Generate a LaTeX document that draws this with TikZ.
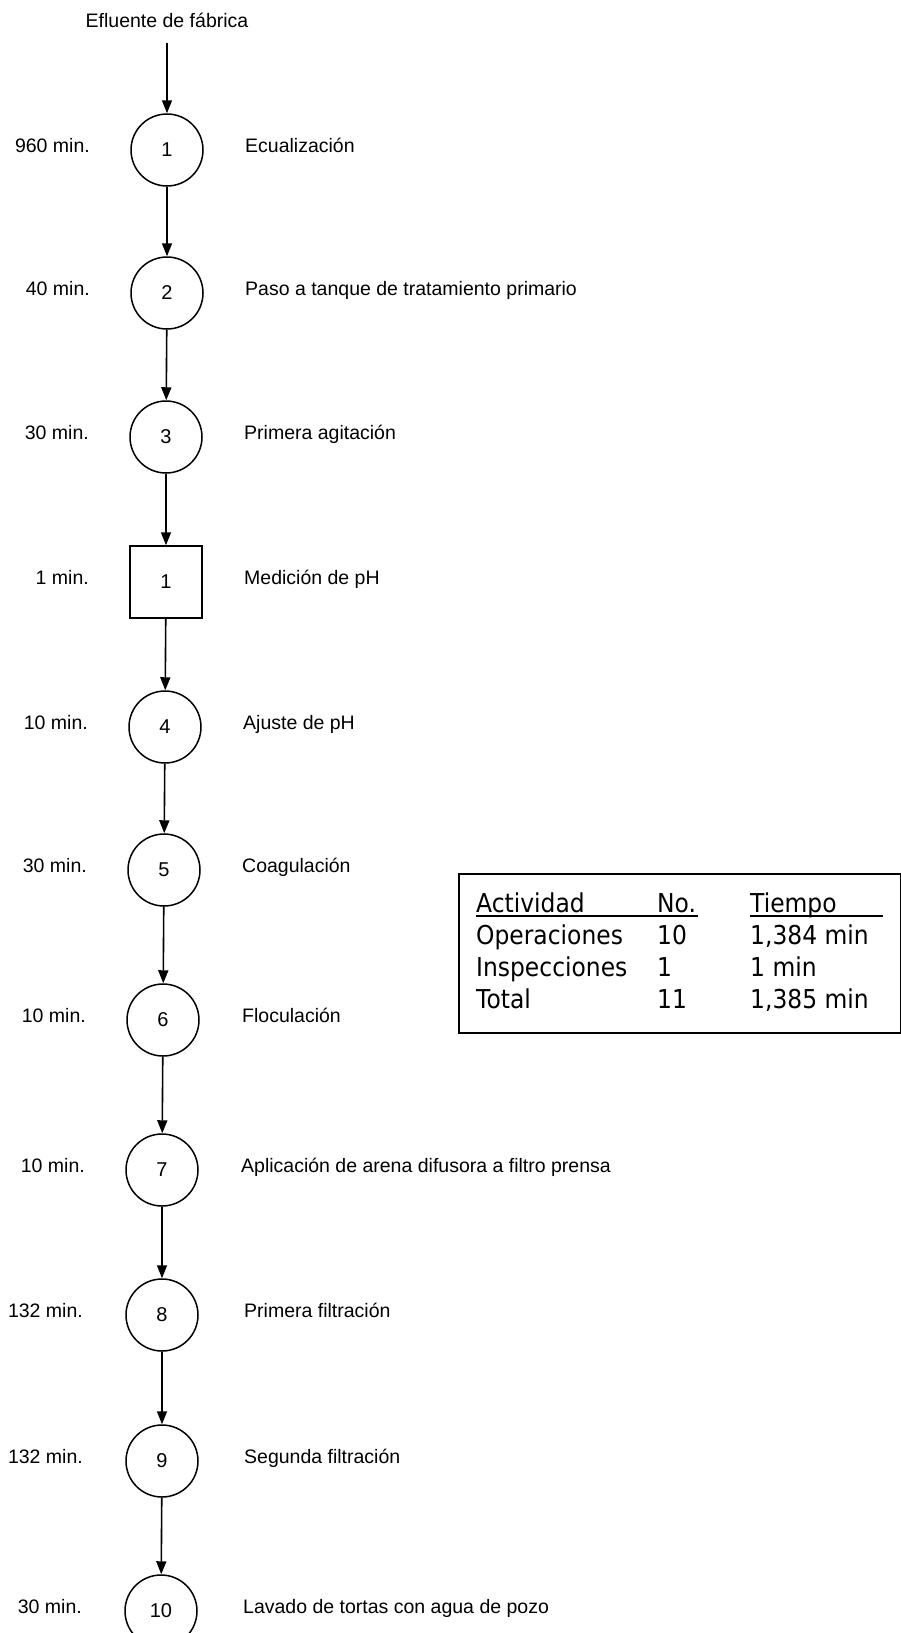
\documentclass[tikz,border=0pt]{standalone}
\usepackage{fontspec}
\setmainfont{Liberation Sans}
\newfontfamily\tabfont[FakeStretch=0.9]{DejaVu Sans}
\usetikzlibrary{arrows.meta}
\newcommand{\lab}{\fontsize{19.5}{23}\selectfont}
\begin{document}
\begin{tikzpicture}[x=1pt,y=-1pt,
  op/.style={circle,draw,line width=1.5pt,minimum size=72pt,inner sep=0pt,font=\fontsize{20}{24}\selectfont},
  insp/.style={rectangle,draw,line width=1.5pt,minimum size=72pt,inner sep=0pt,font=\fontsize{20}{24}\selectfont},
  flow/.style={-{Triangle[width=10pt,length=13pt]},line width=1.6pt},
  tlabel/.style={anchor=mid east,inner sep=0pt,font=\lab},
  dlabel/.style={anchor=mid west,inner sep=0pt,font=\lab},
  tabtxt/.style={anchor=base west,inner sep=0pt,font=\tabfont\fontsize{26}{30}\selectfont},
  rule/.style={line width=1.6pt}]
\useasboundingbox (0,0) rectangle (901,1633);

% source
\node[font=\lab,inner sep=0pt] (src) at (167,20) {Efluente de fábrica};
\coordinate (s0) at (167,43);

% process steps
\node[op]   (o1)  at (167,150)  {1};
\node[op]   (o2)  at (167,293)  {2};
\node[op]   (o3)  at (166,437)  {3};
\node[insp] (i1)  at (166,582)  {1};
\node[op]   (o4)  at (165,727)  {4};
\node[op]   (o5)  at (164,870)  {5};
\node[op]   (o6)  at (163,1020) {6};
\node[op]   (o7)  at (162,1170) {7};
\node[op]   (o8)  at (162,1315) {8};
\node[op]   (o9)  at (162,1461) {9};
\node[op]   (o10) at (161,1611) {10};

% times
\node[tlabel] (t1)  at ([xshift=-77pt]o1.center)  {960 min.};
\node[tlabel] (t2)  at ([xshift=-77pt]o2.center)  {40 min.};
\node[tlabel] (t3)  at ([xshift=-77pt]o3.center)  {30 min.};
\node[tlabel] (ti1) at ([xshift=-77pt]i1.center)  {1 min.};
\node[tlabel] (t4)  at ([xshift=-77pt]o4.center)  {10 min.};
\node[tlabel] (t5)  at ([xshift=-77pt]o5.center)  {30 min.};
\node[tlabel] (t6)  at ([xshift=-77pt]o6.center)  {10 min.};
\node[tlabel] (t7)  at ([xshift=-77pt]o7.center)  {10 min.};
\node[tlabel] (t8)  at ([xshift=-79pt]o8.center)  {132 min.};
\node[tlabel] (t9)  at ([xshift=-79pt]o9.center)  {132 min.};
\node[tlabel] (t10) at ([xshift=-79pt]o10.center) {30 min.};

% descriptions
\node[dlabel] (d1)  at ([xshift=78pt]o1.center)  {Ecualización};
\node[dlabel] (d2)  at ([xshift=78pt]o2.center)  {Paso a tanque de tratamiento primario};
\node[dlabel] (d3)  at ([xshift=78pt]o3.center)  {Primera agitación};
\node[dlabel] (di1) at ([xshift=78pt]i1.center)  {Medición de pH};
\node[dlabel] (d4)  at ([xshift=78pt]o4.center)  {Ajuste de pH};
\node[dlabel] (d5)  at ([xshift=78pt]o5.center)  {Coagulación};
\node[dlabel] (d6)  at ([xshift=79pt]o6.center)  {Floculación};
\node[dlabel] (d7)  at ([xshift=79pt]o7.center)  {Aplicación de arena difusora a filtro prensa};
\node[dlabel] (d8)  at ([xshift=82pt]o8.center)  {Primera filtración};
\node[dlabel] (d9)  at ([xshift=82pt]o9.center)  {Segunda filtración};
\node[dlabel] (d10) at ([xshift=82pt]o10.center) {Lavado de tortas con agua de pozo};

% flow arrows
\draw[flow] (s0) -- (o1);
\draw[flow] (o1) -- (o2);
\draw[flow] (o2) -- (o3);
\draw[flow] (o3) -- (i1);
\draw[flow] (i1) -- (o4);
\draw[flow] (o4) -- (o5);
\draw[flow] (o5) -- (o6);
\draw[flow] (o6) -- (o7);
\draw[flow] (o7) -- (o8);
\draw[flow] (o8) -- (o9);
\draw[flow] (o9) -- (o10);

% summary table
\node[draw,rule,rectangle,inner sep=0pt,minimum width=442pt,minimum height=159pt,anchor=north west] (tab) at (458,873) {};
\node[tabtxt] (h1) at (476,912) {Actividad};
\node[tabtxt] (h2) at (657,912) {No.};
\node[tabtxt] (h3) at (750,912) {Tiempo};
\coordinate (u1a) at (476,916);
\coordinate (u1b) at (698,916);
\coordinate (u2a) at (750,916);
\coordinate (u2b) at (883,916);
\draw[rule] (u1a) -- (u1b);
\draw[rule] (u2a) -- (u2b);
\node[tabtxt] (r1a) at (476,944) {Operaciones};
\node[tabtxt] (r1b) at (657,944) {10};
\node[tabtxt] (r1c) at (750,944) {1,384 min};
\node[tabtxt] (r2a) at (476,976) {Inspecciones};
\node[tabtxt] (r2b) at (657,976) {1};
\node[tabtxt] (r2c) at (750,976) {1 min};
\node[tabtxt] (r3a) at (476,1008) {Total};
\node[tabtxt] (r3b) at (657,1008) {11};
\node[tabtxt] (r3c) at (750,1008) {1,385 min};
\end{tikzpicture}
\end{document}
